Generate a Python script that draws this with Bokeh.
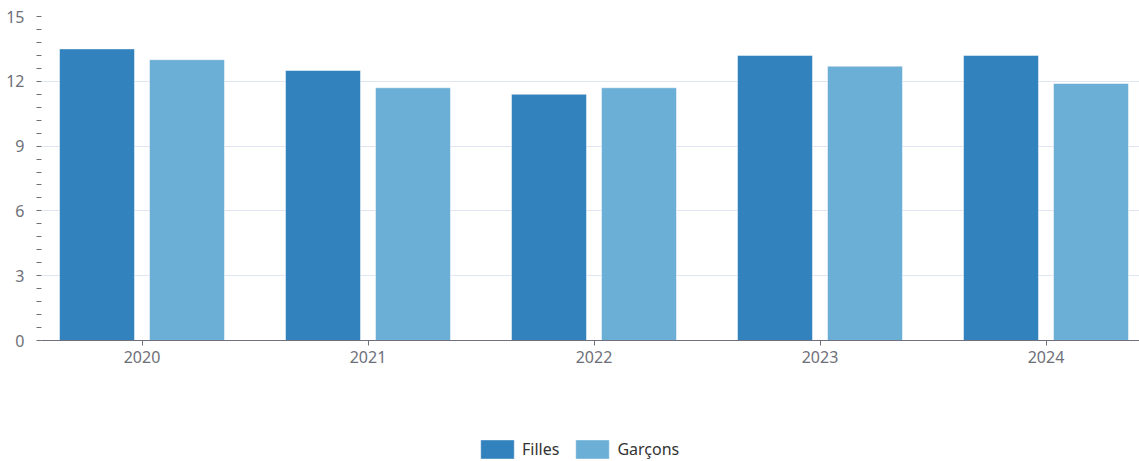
from bokeh.plotting import figure
from bokeh.layouts import column
from bokeh.models import (ColumnDataSource, Range1d, FixedTicker, SingleIntervalTicker,
                          Legend, LegendItem)
from bokeh.transform import dodge
from bokeh.embed import file_html
from bokeh.resources import INLINE

years = [2020, 2021, 2022, 2023, 2024]
tick_labels = ["2020", "2021", "2022", "2023", "2024"]
filles = [13.5, 12.5, 11.4, 13.2, 13.2]
garcons = [13.0, 11.7, 11.7, 12.7, 11.9]
series_names = ["Filles", "Garçons"]
colors = ["#3182bd", "#6baed6"]

src = ColumnDataSource(dict(year=years, filles=filles, garcons=garcons))

FONT = "Noto Sans"
FS = "16px"
p1 = figure(width=1139, height=400, output_backend="svg", toolbar_location=None,
            x_range=Range1d(2019.5553, 2024.4137), y_range=Range1d(0, 15),
            min_border_top=16, min_border_left=41, min_border_right=0,
            min_border_bottom=60)
p1.outline_line_color = None
p1.background_fill_color = "white"

bw = 0.3319
off = 0.1991
bar_style = dict(line_color="white", line_alpha=0.5, line_width=1)
r1 = p1.vbar(x=dodge("year", -off, range=p1.x_range), top="filles", width=bw, source=src,
             fill_color=colors[0], **bar_style)
r2 = p1.vbar(x=dodge("year", off, range=p1.x_range), top="garcons", width=bw, source=src,
             fill_color=colors[1], **bar_style)

# y axis
p1.yaxis.ticker = SingleIntervalTicker(interval=3, num_minor_ticks=5)
p1.yaxis.axis_line_color = None
p1.yaxis.major_tick_out = 0
p1.yaxis.major_tick_in = 0
p1.yaxis.minor_tick_out = 5
p1.yaxis.minor_tick_in = 0
p1.yaxis.minor_tick_line_color = "#6e7079"
p1.yaxis.major_label_standoff = 12
p1.yaxis.major_label_text_font = FONT
p1.yaxis.major_label_text_font_size = FS
p1.yaxis.major_label_text_color = "#6e7079"

# x axis
p1.xaxis.ticker = FixedTicker(ticks=years)
p1.xaxis.major_label_overrides = {y: t for y, t in zip(years, tick_labels)}
p1.xaxis.axis_line_color = "#6e7079"
p1.xaxis.major_tick_line_color = "#6e7079"
p1.xaxis.major_tick_out = 5
p1.xaxis.major_tick_in = 0
p1.xaxis.minor_tick_line_color = None
p1.xaxis.major_label_standoff = 5
p1.xaxis.major_label_text_font = FONT
p1.xaxis.major_label_text_font_size = FS
p1.xaxis.major_label_text_color = "#6e7079"

p1.xgrid.grid_line_color = None
p1.ygrid.grid_line_color = "#e0e6f1"

# legend strip (its bars fall outside its own ranges, only the legend shows)
p2 = figure(width=1139, height=61, output_backend="svg", toolbar_location=None,
            x_axis_type=None, y_axis_type=None, x_range=Range1d(0, 1), y_range=Range1d(0, 1),
            min_border_top=0, min_border_left=0, min_border_right=0, min_border_bottom=0)
p2.outline_line_color = None
p2.grid.grid_line_color = None
l1 = p2.vbar(x="year", top="filles", width=bw, source=src, fill_color=colors[0], **bar_style)
l2 = p2.vbar(x="year", top="garcons", width=bw, source=src, fill_color=colors[1], **bar_style)

legend = Legend(items=[LegendItem(label=series_names[0], renderers=[l1]),
                       LegendItem(label=series_names[1], renderers=[l2])],
                orientation="horizontal", location=(435, 0), padding=0, margin=0,
                spacing=12, glyph_width=42, glyph_height=24, label_standoff=4,
                border_line_color=None, background_fill_alpha=0,
                label_text_font=FONT, label_text_font_size=FS,
                label_text_color="#333333", label_height=19)
p2.add_layout(legend)

p = column(p1, p2, spacing=0)
open("out.html", "w").write(file_html(p, INLINE))
